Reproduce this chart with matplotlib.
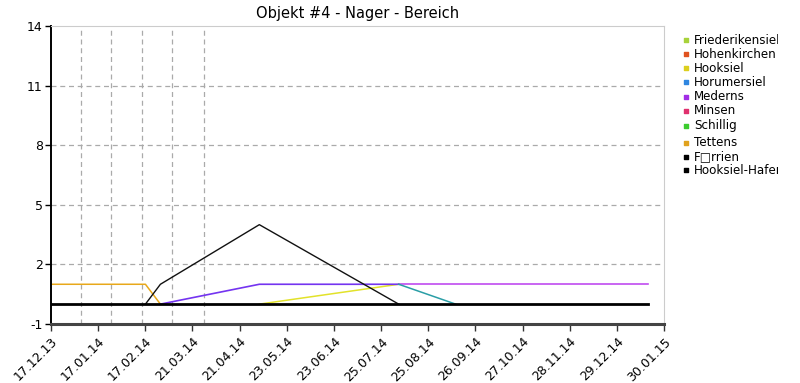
import numpy as np
import pandas as pd
import matplotlib
matplotlib.use("Agg")
import matplotlib.pyplot as plt
import matplotlib.dates as mdates

# --- data ---
X_START, X_END = "2013-12-17", "2015-01-30"
TICK_LABELS = ["17.12.13", "17.01.14", "17.02.14", "21.03.14", "21.04.14", "23.05.14",
               "23.06.14", "25.07.14", "25.08.14", "26.09.14", "27.10.14", "28.11.14",
               "29.12.14", "30.01.15"]
VGRID_DATES = ["2014-01-06", "2014-01-26", "2014-02-16", "2014-03-08", "2014-03-29"]
Y_TICKS = [-1, 2, 5, 8, 11, 14]

# line segments: (dates, values)
hooksiel_hafen_dates = ["2013-12-17", "2015-01-19"]
hooksiel_hafen_vals = [0, 0]
tettens_dates = ["2013-12-17", "2014-02-18", "2014-02-28"]
tettens_vals = [1, 1, 0]
foerrien_dates = ["2014-02-18", "2014-02-28", "2014-05-05", "2014-08-06"]
foerrien_vals = [0, 1, 4, 0]
mederns_dates = ["2014-08-06", "2015-01-19"]
mederns_vals = [1, 1]
horumersiel_dates = ["2014-02-28", "2014-05-05", "2014-08-06"]
horumersiel_vals = [0, 1, 1]
schillig_dates = ["2014-08-06", "2014-09-13"]
schillig_vals = [1, 0]
hooksiel_dates = ["2014-05-05", "2014-08-06"]
hooksiel_vals = [0, 1]

LEGEND_LABELS = ["Friederikensiel", "Hohenkirchen", "Hooksiel", "Horumersiel", "Mederns",
                 "Minsen", "Schillig", "Tettens", "F\u25a1rrien", "Hooksiel-Hafen"]
LEGEND_COLORS = ["#a8d23a", "#e0531f", "#dccf1e", "#2f86e0", "#a22ee6",
                 "#e0306e", "#3ccc2e", "#e0a21e", "#000000", "#000000"]


def d(lst):
    return pd.to_datetime(lst)


fig = plt.figure(figsize=(8, 3.83), dpi=100)
ax = fig.add_axes([51 / 800, 59 / 383, 613 / 800, 298 / 383])

# grid
for yv in Y_TICKS[1:-1]:
    ax.axhline(yv, color="#aaaaaa", linestyle=(0, (4, 3)), linewidth=0.9, zorder=0)
for dv in d(VGRID_DATES):
    ax.axvline(dv, color="#aaaaaa", linestyle=(0, (4, 3)), linewidth=0.9, zorder=0)

# series
ax.plot(d(hooksiel_dates), hooksiel_vals, color="#e2e22a", linewidth=1.1, zorder=2)
ax.plot(d(tettens_dates), tettens_vals, color="#e8a81a", linewidth=1.1, zorder=2)
ax.plot(d(horumersiel_dates), horumersiel_vals, color="#7434f0", linewidth=1.2, zorder=3)
ax.plot(d(mederns_dates), mederns_vals, color="#c04cf0", linewidth=1.2, zorder=3)
ax.plot(d(schillig_dates), schillig_vals, color="#2a9ea6", linewidth=1.1, zorder=3)
ax.plot(d(foerrien_dates), foerrien_vals, color="#111111", linewidth=1.0, zorder=4)
ax.plot(d(hooksiel_hafen_dates), hooksiel_hafen_vals, color="#000000", linewidth=2.0, zorder=5)

# axes styling
x0 = mdates.date2num(pd.Timestamp(X_START))
x1 = mdates.date2num(pd.Timestamp(X_END))
ax.set_xlim(x0, x1)
ax.set_ylim(-1, 14)
ax.set_xticks(np.linspace(x0, x1, len(TICK_LABELS)))
ax.set_xticklabels(TICK_LABELS, rotation=45, ha="right", rotation_mode="anchor", fontsize=9)
ax.set_yticks(Y_TICKS)
ax.set_yticklabels([str(v) for v in Y_TICKS], fontsize=9)
ax.tick_params(axis="x", length=5, width=1, color="#333333", pad=3)
ax.tick_params(axis="y", length=4, width=1, color="#000000", pad=2)
ax.spines["left"].set_color("#000000")
ax.spines["left"].set_linewidth(1.4)
ax.spines["bottom"].set_color("#444444")
ax.spines["bottom"].set_linewidth(2.2)
ax.spines["top"].set_color("#cccccc")
ax.spines["right"].set_color("#cccccc")
ax.set_title("Objekt #4 - Nager - Bereich", fontsize=10.5, pad=6)

# legend drawn by hand so the long label clips at the edge like the original
lax = fig.add_axes([680 / 800, 0, 98 / 800, 1])
lax.set_xlim(680, 778)
lax.set_ylim(383, 0)
lax.axis("off")
leg_y = [40, 54, 68, 82, 97, 111, 126, 143, 157, 170]
for yy, lab, col in zip(leg_y, LEGEND_LABELS, LEGEND_COLORS):
    lax.scatter(686, yy, marker="s", s=10, color=col, clip_on=False)
    lax.text(694, yy, lab, fontsize=8.6, va="center", ha="left", clip_on=True)

fig.savefig("out.png", dpi=100)
